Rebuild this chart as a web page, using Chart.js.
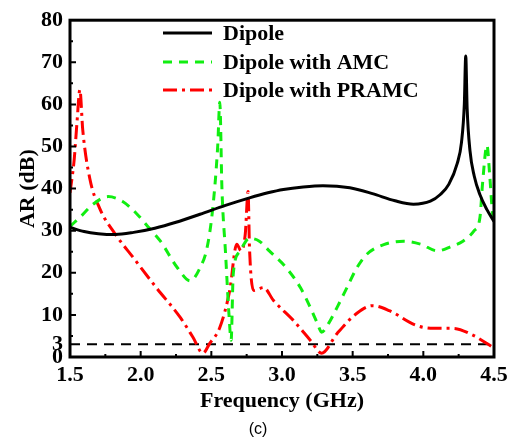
<!DOCTYPE html>
<html>
<head>
<meta charset="utf-8">
<script src="https://cdn.jsdelivr.net/npm/chart.js@4.4.1/dist/chart.umd.min.js"></script>
<style>
  html, body { margin: 0; padding: 0; background: #fff; }
  #wrap { width: 514px; height: 441px; }
</style>
</head>
<body>
<div id="wrap"><canvas id="arChart" width="514" height="441"></canvas></div>
<script>
// Axial ratio curves
const dipoleFreq = [1.5, 1.6, 1.7, 1.82, 1.95, 2.1, 2.25, 2.42, 2.6, 2.77, 2.9, 3.01, 3.15, 3.29, 3.48, 3.64, 3.8, 3.93, 4.05, 4.12, 4.18, 4.24, 4.27, 4.29, 4.30, 4.31, 4.33, 4.36, 4.40, 4.45, 4.5];
const dipoleAR = [30.8, 29.8, 29.3, 29.1, 29.6, 30.6, 32.0, 33.9, 36.0, 37.8, 39.0, 39.8, 40.4, 40.7, 40.2, 38.8, 37.1, 36.3, 37.0, 38.6, 41.0, 46.0, 51.0, 60.0, 71.5, 59.0, 49.0, 43.0, 38.6, 35.0, 32.2];

const amcFreq = [1.5, 1.58, 1.66, 1.77, 1.87, 1.97, 2.05, 2.14, 2.26, 2.35, 2.42, 2.47, 2.51, 2.545, 2.56, 2.575, 2.6, 2.625, 2.64, 2.655, 2.70, 2.77, 2.84, 2.91, 3.03, 3.13, 3.20, 3.25, 3.28, 3.33, 3.39, 3.46, 3.53, 3.60, 3.72, 3.86, 3.98, 4.10, 4.20, 4.28, 4.36, 4.40, 4.42, 4.45, 4.47, 4.49, 4.5];
const amcAR = [31, 33.5, 36.2, 38.1, 37, 34.1, 31, 27.5, 21.2, 18.1, 21.2, 26, 35.3, 50, 60.5, 40, 25, 10, 4, 19.7, 25, 28.2, 27.5, 25.2, 21.2, 16.5, 11.8, 8, 5.9, 8, 11.8, 16.5, 21.2, 24.4, 26.7, 27.5, 26.8, 25.2, 26.3, 27.5, 30, 33, 41.6, 50.3, 43, 34, 33];

const pramcFreq = [1.5, 1.53, 1.55, 1.57, 1.59, 1.64, 1.71, 1.82, 1.95, 2.11, 2.28, 2.37, 2.44, 2.49, 2.56, 2.63, 2.68, 2.71, 2.74, 2.76, 2.77, 2.80, 2.87, 2.94, 3.08, 3.20, 3.28, 3.39, 3.53, 3.64, 3.76, 3.95, 4.07, 4.21, 4.35, 4.5];
const pramcAR = [39, 47, 56, 63.5, 54, 42.4, 35.3, 29.2, 23.5, 16.5, 9.4, 4.7, 0.9, 3.3, 7, 15.8, 26.8, 25.2, 29.2, 39.3, 25.9, 15.8, 16.5, 13.4, 8.7, 4, 0.9, 5.6, 10.4, 12.2, 11, 7.5, 6.8, 6.8, 5.2, 2.1];

// 3 dB reference line
const refFreq = [1.5, 4.5];
const refAR = [3, 3];

// ticks
const xTickValues = [1.5, 2.0, 2.5, 3.0, 3.5, 4.0, 4.5];
const xMinorValues = [1.75, 2.25, 2.75, 3.25, 3.75, 4.25];
const yTickValues = [0, 3, 10, 20, 30, 40, 50, 60, 70, 80];
const yMajorMarks = [10, 20, 30, 40, 50, 60, 70];
const yMinorMarks = [5, 15, 25, 35, 45, 55, 65, 75];

const seriesLabels = ["Dipole", "Dipole with AMC", "Dipole with PRAMC"];

const serif = "'Liberation Serif', 'Times New Roman', serif";

function toPoints(xs, ys) {
  return xs.map((x, i) => ({ x: x, y: ys[i] }));
}

// inward tick marks, frame, legend and caption
const decorations = {
  id: "decorations",
  afterDatasetsDraw(chart) {
    const { ctx, chartArea: a, scales: { x, y } } = chart;
    ctx.save();
    ctx.strokeStyle = "#000";
    ctx.lineWidth = 2;
    ctx.setLineDash([]);
    ctx.beginPath();
    xTickValues.forEach(v => {
      const px = x.getPixelForValue(v);
      ctx.moveTo(px, a.bottom);
      ctx.lineTo(px, a.bottom - 6);
    });
    xMinorValues.forEach(v => {
      const px = x.getPixelForValue(v);
      ctx.moveTo(px, a.bottom);
      ctx.lineTo(px, a.bottom - 3);
    });
    yMajorMarks.forEach(v => {
      const py = y.getPixelForValue(v);
      ctx.moveTo(a.left, py);
      ctx.lineTo(a.left + 6, py);
    });
    yMinorMarks.forEach(v => {
      const py = y.getPixelForValue(v);
      ctx.moveTo(a.left, py);
      ctx.lineTo(a.left + 3, py);
    });
    ctx.stroke();

    ctx.lineWidth = 3;
    ctx.strokeRect(a.left, a.top, a.right - a.left, a.bottom - a.top);
    ctx.restore();
  },
  afterDraw(chart) {
    const ctx = chart.ctx;
    ctx.save();
    // legend
    const rows = [33, 62, 90];
    seriesLabels.forEach((label, i) => {
      const ds = chart.data.datasets[i];
      ctx.strokeStyle = ds.borderColor;
      ctx.lineWidth = 3;
      ctx.setLineDash(ds.borderDash || []);
      ctx.beginPath();
      ctx.moveTo(163, rows[i]);
      ctx.lineTo(212, rows[i]);
      ctx.stroke();
      ctx.setLineDash([]);
      ctx.fillStyle = "#000";
      ctx.font = "bold 22px " + serif;
      ctx.textAlign = "left";
      ctx.textBaseline = "middle";
      ctx.fillText(label, 223, rows[i] + 1);
    });
    // panel caption
    ctx.font = "16px 'Liberation Sans', Arial, sans-serif";
    ctx.textAlign = "center";
    ctx.fillStyle = "#000";
    ctx.fillText("(c)", 258, 430);
    ctx.restore();
  }
};

const chart = new Chart(document.getElementById("arChart"), {
  type: "line",
  data: {
    datasets: [
      {
        label: seriesLabels[0],
        data: toPoints(dipoleFreq, dipoleAR),
        borderColor: "#000000",
        borderWidth: 3,
        pointRadius: 0,
        cubicInterpolationMode: "monotone"
      },
      {
        label: seriesLabels[1],
        data: toPoints(amcFreq, amcAR),
        borderColor: "#11ee11",
        borderWidth: 3,
        borderDash: [9, 7],
        pointRadius: 0,
        cubicInterpolationMode: "monotone"
      },
      {
        label: seriesLabels[2],
        data: toPoints(pramcFreq, pramcAR),
        borderColor: "#ff0000",
        borderWidth: 3,
        borderDash: [14, 5, 3, 5],
        pointRadius: 0,
        cubicInterpolationMode: "monotone"
      },
      {
        label: "3 dB",
        data: toPoints(refFreq, refAR),
        borderColor: "#000000",
        borderWidth: 2,
        borderDash: [10, 7],
        pointRadius: 0
      }
    ]
  },
  options: {
    responsive: false,
    devicePixelRatio: 1,
    animation: false,
    layout: { padding: { left: 0, top: 17, right: 20, bottom: 0 } },
    plugins: {
      legend: { display: false },
      tooltip: { enabled: false }
    },
    scales: {
      x: {
        type: "linear",
        min: 1.5,
        max: 4.5,
        afterFit: s => { s.height = 84; },
        afterBuildTicks: s => { s.ticks = xTickValues.map(v => ({ value: v })); },
        grid: { display: false, drawTicks: false },
        border: { display: false },
        ticks: {
          autoSkip: false,
          maxRotation: 0,
          padding: 5,
          color: "#000",
          font: { family: serif, size: 22, weight: "bold" },
          callback: v => v.toFixed(1)
        },
        title: {
          display: true,
          text: "Frequency (GHz)",
          color: "#000",
          font: { family: serif, size: 22, weight: "bold" },
          padding: { top: 0, bottom: 26 }
        }
      },
      y: {
        type: "linear",
        min: 0,
        max: 80,
        afterFit: s => { s.width = 70; },
        afterBuildTicks: s => { s.ticks = yTickValues.map(v => ({ value: v })); },
        grid: { display: false, drawTicks: false },
        border: { display: false },
        ticks: {
          autoSkip: false,
          padding: 7,
          color: "#000",
          font: { family: serif, size: 22, weight: "bold" }
        },
        title: {
          display: true,
          text: "AR (dB)",
          color: "#000",
          font: { family: serif, size: 22, weight: "bold" },
          padding: { top: 15, bottom: 0 }
        }
      }
    }
  },
  plugins: [decorations]
});
</script>
</body>
</html>
